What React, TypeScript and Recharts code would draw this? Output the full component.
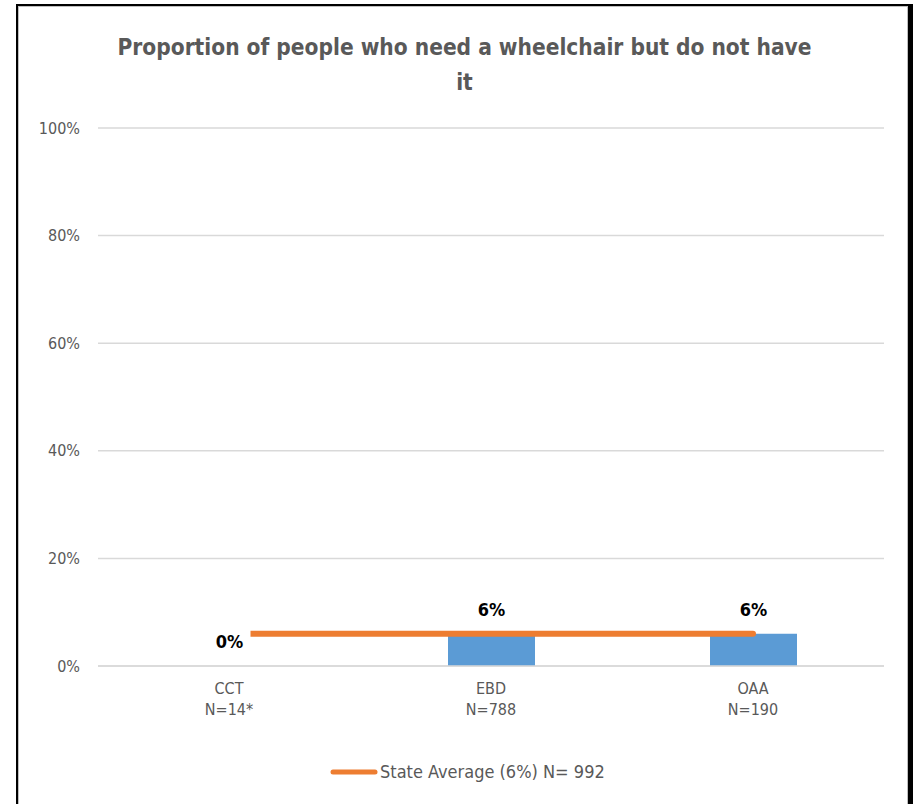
import React from "react";
import { ComposedChart, Bar, Line, XAxis, YAxis, CartesianGrid, Legend, LabelList } from "recharts";

const categories = ["CCT", "EBD", "OAA"];
const sampleSizes = ["N=14*", "N=788", "N=190"];
const needWithout = [0, 6, 6];
const stateAverage = [6, 6, 6];
const stateAverageName = "State Average (6%) N= 992";
const yTicks = [0, 20, 40, 60, 80, 100];
const titleLines = ["Proportion of people who need a wheelchair but do not have", "it"];

const data = categories.map((name, i) => ({
  name,
  value: needWithout[i],
  avg: stateAverage[i],
}));

const FONT = '"Liberation Sans Narrow", "DejaVu Sans Condensed", "Liberation Sans", sans-serif';
const GRAY = "#595959";

function CategoryTick({ x, y, payload }: any) {
  return (
    <text x={x} y={y} textAnchor="middle" fill={GRAY} fontSize={16} fontFamily={FONT}>
      <tspan x={x} dy={20}>{payload.value}</tspan>
      <tspan x={x} dy={21}>{sampleSizes[payload.index]}</tspan>
    </text>
  );
}

function ValueLabel({ x, y, width, value }: any) {
  const cx = x + width / 2;
  return (
    <g>
      <rect x={cx - 22} y={y - 38} width={43} height={28} fill="#fff" />
      <text x={cx} y={y - 18} textAnchor="middle" fontSize={18} fontWeight="bold" fill="#000" fontFamily={FONT}>
        {value}%
      </text>
    </g>
  );
}

function AvgLegend({ payload }: any) {
  const items = (payload || []).filter((p: any) => p.dataKey === "avg");
  return (
    <div style={{ display: "flex", alignItems: "center", marginLeft: 330, fontFamily: FONT }}>
      {items.map((p: any) => (
        <div key={p.value} style={{ display: "flex", alignItems: "center" }}>
          <svg width={48} height={10}>
            <line x1={3} y1={5} x2={45} y2={5} stroke={p.color} strokeWidth={5} strokeLinecap="round" />
          </svg>
          <span style={{ color: GRAY, fontSize: 18, marginLeft: 2 }}>{p.value}</span>
        </div>
      ))}
    </div>
  );
}

export default function App() {
  return (
    <div style={{ position: "absolute", left: 0, top: 0, width: 913, height: 804, background: "#fff", overflow: "hidden" }}>
      <div
        style={{
          position: "absolute",
          left: 16,
          top: 4,
          width: 890,
          height: 820,
          borderLeft: "2px solid #000",
          borderTop: "2px solid #000",
          borderRight: "5px solid #000",
          boxShadow: "inset 1px 1px 0 #bfbfbf, inset -1px 0 0 #bfbfbf",
        }}
      />
      <div
        style={{
          position: "absolute",
          left: 16,
          top: 30,
          width: 897,
          textAlign: "center",
          fontFamily: FONT,
          fontWeight: "bold",
          fontSize: 22.5,
          lineHeight: "35px",
          color: GRAY,
        }}
      >
        {titleLines.map((t) => (
          <div key={t}>{t}</div>
        ))}
      </div>
      <div style={{ position: "absolute", left: 0, top: 0 }}>
        <ComposedChart width={913} height={804} data={data} margin={{ top: 128, right: 29, bottom: 78, left: 28 }}>
          <CartesianGrid vertical={false} stroke="#d9d9d9" strokeWidth={1.5} />
          <XAxis
            dataKey="name"
            height={60}
            axisLine={{ stroke: "#d9d9d9", strokeWidth: 1.5 }}
            tickLine={false}
            tick={<CategoryTick />}
            interval={0}
          />
          <YAxis
            domain={[0, 100]}
            ticks={yTicks}
            width={70}
            axisLine={false}
            tickLine={false}
            tickMargin={12}
            tickFormatter={(v: number) => `${v}%`}
            tick={{ fill: GRAY, fontSize: 16, fontFamily: FONT }}
          />
          <Bar
            dataKey="value"
            fill="#5B9BD5"
            barSize={87}
            minPointSize={(v: number) => (v === 0 ? 0.01 : 0)}
            legendType="none"
            isAnimationActive={false}
          >
            <LabelList dataKey="value" content={<ValueLabel />} />
          </Bar>
          <Line
            dataKey="avg"
            name={stateAverageName}
            type="linear"
            stroke="#ED7D31"
            strokeWidth={6}
            strokeLinecap="round"
            dot={false}
            activeDot={false}
            isAnimationActive={false}
          />
          <Legend
            layout="horizontal"
            verticalAlign="middle"
            align="center"
            wrapperStyle={{ left: 0, top: 761, width: 913 }}
            content={<AvgLegend />}
          />
        </ComposedChart>
      </div>
    </div>
  );
}
